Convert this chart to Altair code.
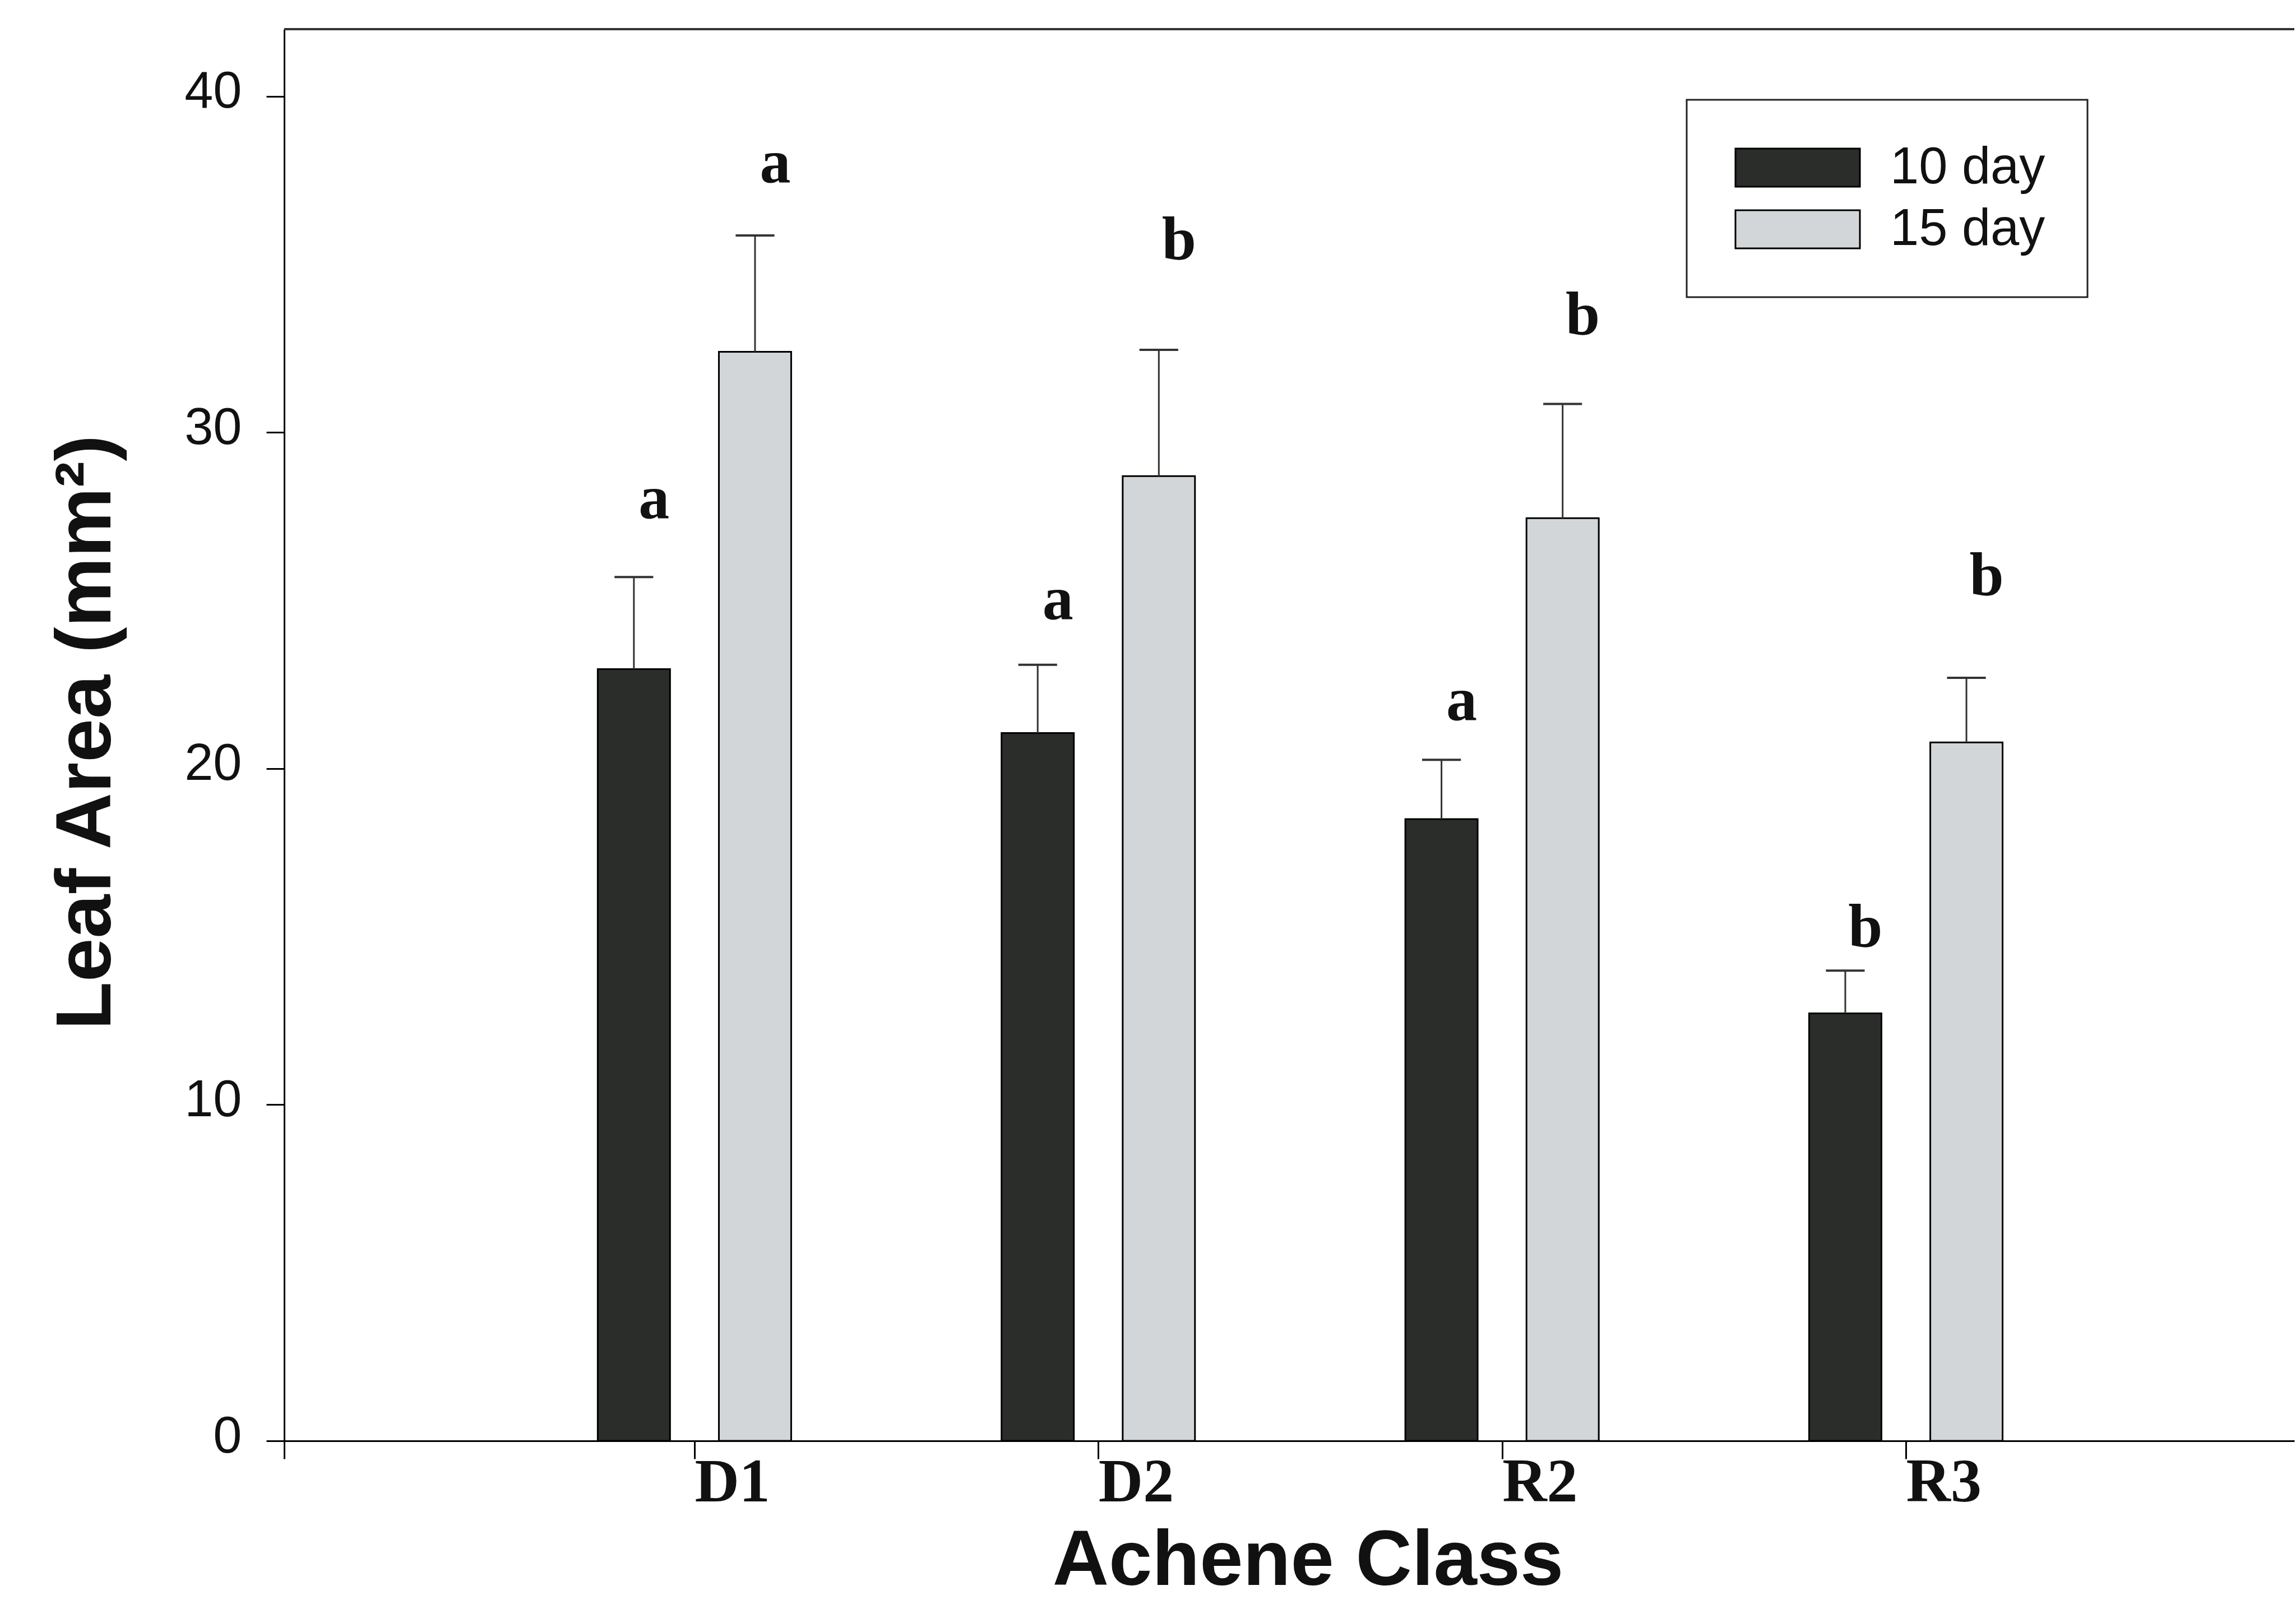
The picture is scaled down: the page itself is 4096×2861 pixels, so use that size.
import altair as alt
import pandas as pd

# ---- data ----
categories = ["D1", "D2", "R2", "R3"]
series = ["10 day", "15 day"]
mean_10 = [22.96, 21.06, 18.50, 12.72]
mean_15 = [32.40, 28.70, 27.45, 20.78]
err_10 = [2.74, 2.03, 1.76, 1.27]
err_15 = [3.46, 3.76, 3.40, 1.92]
letters_10 = ["a", "a", "a", "b"]
letters_15 = ["a", "b", "b", "b"]
letter_y_10 = [28.0, 25.0, 22.0, 15.25]
letter_y_15 = [38.0, 35.7, 33.46, 25.7]
y_ticks = [0, 10, 20, 30, 40]

rows = []
for i, c in enumerate(categories):
    rows.append(dict(cat=c, idx=i + 1, series=series[0], mean=mean_10[i],
                     err=err_10[i], letter=letters_10[i], ly=letter_y_10[i]))
    rows.append(dict(cat=c, idx=i + 1, series=series[1], mean=mean_15[i],
                     err=err_15[i], letter=letters_15[i], ly=letter_y_15[i]))
df = pd.DataFrame(rows)

# ---- layout constants (output pixels) ----
W, H = 3586, 2518
PAD = {"left": 507, "top": 52, "right": 3, "bottom": 291}
XMIN, XMAX = -0.016, 4.962
YMAX = 42
OFF, BW, CAP, LOFF = 0.15, 0.179, 0.048, 0.05

SANS = "Liberation Sans"
SERIF = "Liberation Serif"

xscale = alt.Scale(domain=[XMIN, XMAX], nice=False, zero=False)
yscale = alt.Scale(domain=[0, YMAX], nice=False)

cat_js = "[" + ",".join("'%s'" % c for c in categories) + "]"
xaxis = alt.Axis(
    title="Achene Class", values=[XMIN, 1, 2, 3, 4],
    labelExpr=f"datum.value < 0.5 ? '' : {cat_js}[round(datum.value) - 1]",
    grid=False, domainColor="black", domainWidth=3, tickColor="black",
    tickWidth=3, tickSize=32, labelFont=SERIF, labelFontWeight="bold",
    labelFontSize=110, labelColor="#111", labelAlign="left",
    labelBaseline="top", labelPadding=-12, labelFlush=False,
    labelOverlap=False, labelBound=False,
    titleFont=SANS, titleFontWeight="bold", titleFontSize=139,
    titleColor="#111", titleX=1826, titleY=256, titleBaseline="alphabetic",
    titleAlign="center",
)
yaxis = alt.Axis(
    title="Leaf Area (mm²)", values=y_ticks, grid=False,
    domainColor="black", domainWidth=3, tickColor="black", tickWidth=3,
    tickSize=32, labelFont=SANS, labelFontSize=92, labelColor="#111",
    labelPadding=44, labelOffset=-8,
    titleFont=SANS, titleFontWeight="bold", titleFontSize=140,
    titleColor="#111", titleX=-311, titleY=1254, titleAngle=270,
    titleBaseline="alphabetic", titleAlign="center",
)

def X(f):
    return alt.X(f, type="quantitative", scale=xscale, axis=xaxis)

def Y(f):
    return alt.Y(f, type="quantitative", scale=yscale, axis=yaxis, stack=None)

color = alt.Color(
    "series:N",
    scale=alt.Scale(domain=series, range=["#2b2d2b", "#d3d6d9"]),
    legend=alt.Legend(
        title=None, orient="none", legendX=2502, legendY=126,
        symbolType="M-1,-1H5.53V1H-1Z", symbolSize=4624, symbolOffset=0,
        symbolStrokeColor="black", symbolStrokeWidth=3, symbolOpacity=1,
        labelOffset=196, labelFont=SANS, labelFontSize=92, labelLimit=0,
        labelColor="#111", rowPadding=18, padding=75,
        strokeColor="#222", fillColor="white",
    ),
)

base = alt.Chart(df).transform_calculate(
    xc=f"datum.idx + (datum.series == '{series[0]}' ? -{OFF} : {OFF})"
).transform_calculate(
    xl=f"datum.xc - {BW / 2}", xr=f"datum.xc + {BW / 2}",
    cl=f"datum.xc - {CAP}", cr=f"datum.xc + {CAP}",
    lx=f"datum.xc + {LOFF}", hi="datum.mean + datum.err",
)

bars = base.mark_bar(stroke="black", strokeWidth=3, opacity=1).encode(
    x=X("xl"), x2="xr", y=Y("mean"), y2=alt.datum(0), color=color,
)
stems = base.mark_rule(color="#333", strokeWidth=3).encode(
    x=X("xc"), y=Y("mean"), y2="hi",
)
caps = base.mark_rule(color="#333", strokeWidth=4).encode(
    x=X("cl"), x2="cr", y=Y("hi"),
)
labels = base.mark_text(
    font=SERIF, fontWeight="bold", fontSize=110, color="#111",
    baseline="middle", align="center",
).encode(x=X("lx"), y=Y("ly"), text="letter:N")

top = alt.Chart(pd.DataFrame({"v": [YMAX]})).mark_rule(
    color="#333", strokeWidth=4
).encode(y=alt.Y("v:Q", scale=yscale, axis=yaxis))

chart = alt.layer(bars, stems, caps, labels, top).properties(
    width=W, height=H, padding=PAD,
    autosize=alt.AutoSizeParams(type="none"),
    background="white",
).configure_view(stroke=None).configure_legend(strokeWidth=3)

chart.save("out.html", embed_options={"renderer": "svg", "actions": False})
